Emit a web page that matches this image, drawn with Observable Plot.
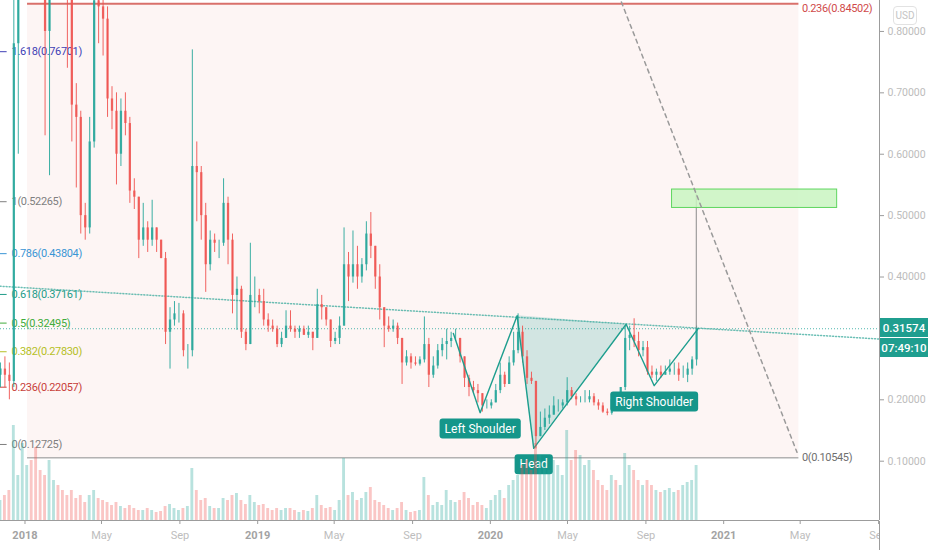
<!DOCTYPE html>
<html><head><meta charset="utf-8">
<script src="https://cdn.jsdelivr.net/npm/d3@7"></script>
<script src="https://cdn.jsdelivr.net/npm/@observablehq/plot@0.6"></script>
<style>
body{margin:0;background:#fff;font-family:Roboto,sans-serif;}
#wrap{position:relative;width:932px;height:550px;overflow:hidden;background:#fff;}
#wrap svg{position:absolute;left:0;top:0;}
.pbox{position:absolute;left:880px;width:48px;height:19px;background:#1f9e8f;color:#fff;font:500 11.5px Roboto,sans-serif;display:flex;align-items:center;justify-content:center;}
#usd{position:absolute;left:893px;top:6px;width:24px;height:19px;border:1px solid #e2e2e2;border-radius:4px;color:#c4c4c4;font:10px Roboto,sans-serif;display:flex;align-items:center;justify-content:center;box-sizing:border-box;}
#cover{position:absolute;left:879px;top:521px;width:53px;height:29px;background:#fff;border-left:1px solid #9c9c9c;box-sizing:border-box;}
.fibtxt text{letter-spacing:-0.35px;}
</style></head><body><div id="wrap"></div><script>
// ---------- DATA (weekly candles) ----------
const firstWeek = "2017-11-20";
const opens = [
0.24,0.25,0.24,0.23,0.78,0.98,2.00,2.50,1.80,1.40,
1.25,0.80,0.95,1.10,0.95,0.90,0.86,0.68,0.66,0.50,
0.48,0.62,0.85,0.84,0.82,0.69,0.67,0.60,0.67,0.65,
0.54,0.53,0.46,0.48,0.46,0.48,0.46,0.43,0.31,0.33,
0.34,0.34,0.28,0.28,0.58,0.57,0.50,0.42,0.46,0.455,
0.455,0.52,0.46,0.37,0.38,0.31,0.29,0.37,0.37,0.36,
0.33,0.32,0.315,0.29,0.30,0.32,0.315,0.31,0.315,0.305,
0.31,0.30,0.355,0.35,0.33,0.295,0.30,0.32,0.42,0.40,
0.42,0.40,0.42,0.47,0.45,0.40,0.35,0.32,0.315,0.32,
0.30,0.26,0.27,0.26,0.258,0.265,0.29,0.24,0.255,0.28,
0.29,0.295,0.30,0.30,0.27,0.235,0.22,0.215,0.21,0.19,
0.19,0.195,0.215,0.24,0.225,0.26,0.28,0.31,0.27,0.235,
0.23,0.14,0.155,0.17,0.175,0.19,0.19,0.195,0.215,0.205,
0.20,0.20,0.20,0.205,0.195,0.19,0.18,0.178,0.20,0.195,
0.22,0.30,0.305,0.295,0.28,0.285,0.245,0.24,0.245,0.24,
0.245,0.25,0.25,0.24,0.24,0.25,0.265];
const highs = [
0.26,0.27,0.26,0.92,1.20,2.10,3.30,2.60,1.85,1.50,
1.30,1.00,1.20,1.15,1.00,0.95,0.87,0.715,0.67,0.52,
0.66,0.89,0.95,0.93,0.84,0.71,0.70,0.69,0.70,0.66,
0.56,0.53,0.52,0.49,0.525,0.48,0.46,0.44,0.35,0.36,
0.357,0.345,0.29,0.77,0.62,0.58,0.52,0.475,0.47,0.46,
0.56,0.53,0.47,0.40,0.385,0.315,0.455,0.40,0.38,0.38,
0.34,0.33,0.32,0.31,0.345,0.345,0.32,0.32,0.32,0.32,
0.31,0.38,0.37,0.35,0.33,0.31,0.335,0.48,0.44,0.475,
0.45,0.43,0.49,0.505,0.45,0.42,0.35,0.335,0.33,0.325,
0.30,0.28,0.275,0.27,0.27,0.335,0.30,0.27,0.29,0.30,
0.315,0.31,0.315,0.30,0.27,0.24,0.23,0.225,0.21,0.20,
0.20,0.225,0.26,0.245,0.27,0.31,0.34,0.32,0.28,0.245,
0.23,0.18,0.185,0.19,0.205,0.20,0.20,0.236,0.22,0.21,
0.205,0.215,0.215,0.21,0.20,0.195,0.185,0.21,0.205,0.22,
0.32,0.32,0.332,0.31,0.295,0.295,0.255,0.25,0.255,0.255,
0.265,0.26,0.26,0.255,0.26,0.27,0.32];
const lows = [
0.22,0.22,0.20,0.22,0.60,0.95,1.90,1.60,1.05,1.20,
0.63,0.565,0.90,0.88,0.86,0.74,0.62,0.545,0.47,0.46,
0.47,0.61,0.78,0.76,0.66,0.64,0.55,0.58,0.63,0.52,
0.51,0.43,0.45,0.44,0.45,0.44,0.43,0.29,0.25,0.32,
0.325,0.27,0.25,0.27,0.49,0.46,0.375,0.41,0.44,0.43,
0.45,0.42,0.34,0.313,0.30,0.28,0.29,0.35,0.34,0.32,
0.31,0.31,0.285,0.285,0.30,0.31,0.30,0.30,0.305,0.30,
0.28,0.30,0.33,0.32,0.285,0.29,0.29,0.32,0.36,0.39,
0.38,0.39,0.41,0.43,0.38,0.33,0.285,0.31,0.31,0.29,
0.225,0.255,0.25,0.255,0.255,0.26,0.22,0.235,0.25,0.27,
0.265,0.285,0.295,0.26,0.22,0.205,0.21,0.195,0.18,0.185,
0.185,0.195,0.21,0.22,0.225,0.255,0.275,0.26,0.225,0.225,
0.12,0.14,0.15,0.16,0.175,0.18,0.185,0.19,0.20,0.19,
0.195,0.195,0.195,0.19,0.183,0.178,0.174,0.175,0.19,0.19,
0.215,0.28,0.285,0.27,0.27,0.24,0.235,0.23,0.235,0.24,
0.24,0.24,0.23,0.235,0.228,0.24,0.255];
const closes = [
0.25,0.24,0.23,0.78,0.98,2.00,2.50,1.80,1.40,1.25,
0.80,0.95,1.10,0.95,0.90,0.86,0.68,0.66,0.50,0.48,
0.62,0.85,0.84,0.82,0.69,0.67,0.60,0.67,0.65,0.54,
0.53,0.46,0.48,0.46,0.48,0.46,0.43,0.31,0.33,0.34,
0.34,0.28,0.28,0.58,0.57,0.50,0.42,0.46,0.455,0.455,
0.52,0.46,0.37,0.38,0.31,0.29,0.37,0.37,0.36,0.33,
0.32,0.315,0.29,0.30,0.32,0.315,0.31,0.315,0.305,0.31,
0.30,0.355,0.35,0.33,0.295,0.30,0.32,0.42,0.40,0.42,
0.40,0.42,0.47,0.45,0.40,0.35,0.32,0.315,0.32,0.30,
0.26,0.27,0.26,0.258,0.265,0.29,0.24,0.255,0.28,0.29,
0.295,0.30,0.30,0.27,0.235,0.22,0.215,0.21,0.19,0.19,
0.195,0.215,0.24,0.225,0.26,0.28,0.31,0.27,0.235,0.23,
0.14,0.155,0.17,0.175,0.19,0.19,0.195,0.215,0.205,0.20,
0.20,0.20,0.205,0.195,0.19,0.18,0.178,0.20,0.195,0.22,
0.30,0.305,0.295,0.28,0.285,0.245,0.24,0.245,0.24,0.245,
0.25,0.25,0.24,0.24,0.25,0.265,0.31574];
const volumes = [
20,25,30,95,45,77,55,60,73,50,
45,60,40,35,30,25,30,22,25,18,
25,30,22,20,18,15,18,14,12,15,
12,10,10,12,10,8,9,14,16,12,
10,12,14,52,30,20,22,14,12,12,
22,20,25,27,20,16,25,18,15,16,
12,10,12,10,12,12,10,8,10,9,
12,25,15,12,13,10,20,62,25,28,
20,22,28,33,20,18,15,12,10,12,
18,10,8,9,10,43,25,15,18,15,
30,20,18,20,28,22,15,18,15,12,
20,25,30,22,35,40,45,55,60,50,
77,65,55,50,60,55,45,90,60,70,
65,55,60,50,40,35,30,45,40,35,
67,55,50,40,35,40,35,30,28,30,
32,28,30,35,38,40,55];

const currentPrice = 0.31574;
const countdown = "07:49:10";
// price-scale labels visible in the picture (0.30000 is hidden behind the price tag)
const priceTicks = [0.1,0.2,0.4,0.5,0.6,0.7,0.8];
const timeTicks = ["2018-01-01","2018-05-01","2018-09-01","2019-01-01","2019-05-01","2019-09-01","2020-01-01","2020-05-01","2020-09-01","2021-01-01","2021-05-01","2021-09-01"];

// left Fibonacci retracement (labels at the left edge)
const leftFibLevels = ["1.618","1","0.786","0.618","0.5","0.382","0.236","0"];
const leftFibPrices = [0.76701,0.52265,0.43804,0.37161,0.32495,0.27830,0.22057,0.12725];
const leftFibLineEnd = "2017-12-04";
const leftFibLabelAt = "2017-12-11";

// right Fibonacci retracement (visible levels)
const rightFibLevels = ["0.236","0"];
const rightFibPrices = [0.84502,0.10545];
const rightFibSpan = ["2018-01-05","2021-04-29"];
const fibDiagonalDates = ["2020-07-20","2021-04-26"];
const fibDiagonalPrices = [0.86,0.1145];

// trend line (dotted)
const trendDates = ["2017-11-23","2021-09-02"];
const trendPrices = [0.385,0.299];

// head & shoulders pattern
const hsNames = ["","Left Shoulder","","Head","","Right Shoulder",""];
const hsDates = ["2019-11-04","2019-12-16","2020-02-12","2020-03-09","2020-08-01","2020-09-14","2020-11-22"];
const hsPrices = [0.308,0.179,0.337,0.121,0.323,0.223,0.316];

// target box and projection
const targetDates = ["2020-10-12","2021-06-28"];
const targetPrices = [0.5125,0.5425];
const projectionDate = "2020-11-19";
const projectionTop = 0.535;

// ---------- BUILD ----------
const DAY = 864e5;
const w0 = +new Date(firstWeek);
const weeks = opens.map((o,i)=>({
  start:new Date(w0+i*7*DAY), mid:new Date(w0+(i*7+3.5)*DAY), end:new Date(w0+(i+1)*7*DAY),
  open:o, high:highs[i], low:lows[i], close:closes[i], volume:volumes[i], up:closes[i]>=o
}));
const UP="#26a69a", DOWN="#ef5350";
const xDomain=[new Date(Date.UTC(2017,10,23,14)), new Date(Date.UTC(2021,8,2,10))];
const yDomain=[0.00341,0.8504];
const tDates=timeTicks.map(d=>new Date(d));
const yearTicks=tDates.filter(d=>d.getUTCMonth()===0);
const monthTicks=tDates.filter(d=>d.getUTCMonth()!==0);

const leftFib=leftFibLevels.map((l,i)=>({level:l,price:leftFibPrices[i],label:`${l}(${leftFibPrices[i].toFixed(5)})`}));
const rightFib=rightFibLevels.map((l,i)=>({level:l,price:rightFibPrices[i],label:`${l}(${rightFibPrices[i].toFixed(5)})`}));
const rfStart=new Date(rightFibSpan[0]), rfEnd=new Date(rightFibSpan[1]);
const hs=hsNames.map((n,i)=>({name:n,date:new Date(hsDates[i]),price:hsPrices[i]}));
const n1=hs[2], hd=hs[3], n2=hs[4];
const neckAt=d=>n1.price+(n2.price-n1.price)*((+d-+n1.date)/(+n2.date-+n1.date));
const tri=[{date:n1.date,lo:n1.price,hi:n1.price},{date:hd.date,lo:hd.price,hi:neckAt(hd.date)},{date:n2.date,lo:n2.price,hi:n2.price}];

const fibColor=Plot.scale({color:{domain:leftFibLevels,range:["#3f3fb5","#7f7f7f","#3a95d5","#1f9c88","#41ac3c","#b5bf26","#c8403a","#7f7f7f"]}});

const main=Plot.plot({
  width:932,height:550,marginLeft:0,marginRight:53,marginTop:0,marginBottom:30,
  style:{fontFamily:"Roboto, sans-serif",background:"transparent"},
  x:{type:"utc",domain:xDomain},
  y:{domain:yDomain},
  marks:[
    Plot.rect([{a:rfStart,b:rfEnd,c:rightFibPrices[1],d:rightFibPrices[0]}],{x1:"a",x2:"b",y1:"c",y2:"d",fill:"#fdf5f4",clip:true}),
    Plot.ruleY(rightFib,{y:"price",x1:rfStart,x2:rfEnd,stroke:d=>d.level==="0"?"#8c8c8c":"#d9706b",strokeWidth:d=>d.level==="0"?1:2,clip:true}),
    Plot.text(rightFib.slice(0,1),{x:rfEnd,y:"price",text:"label",textAnchor:"start",dx:3,dy:5,fill:"#d04a4a",fontSize:11,className:"fibtxt"}),
    Plot.text(rightFib.slice(1),{x:rfEnd,y:"price",text:"label",textAnchor:"start",dx:3,fill:"#6f6f6f",fontSize:11,className:"fibtxt"}),
    Plot.ruleY(leftFib,{y:"price",x1:xDomain[0],x2:new Date(leftFibLineEnd),stroke:d=>fibColor.apply(d.level)}),
    Plot.text(leftFib,{x:new Date(leftFibLabelAt),y:"price",text:"label",textAnchor:"start",fill:d=>fibColor.apply(d.level),fontSize:11,className:"fibtxt"}),
    Plot.ruleY([currentPrice],{stroke:UP,strokeDasharray:"1,2",strokeOpacity:0.8}),
    Plot.line(trendDates.map((d,i)=>({date:new Date(d),price:trendPrices[i]})),{x:"date",y:"price",stroke:"#3aa99c",strokeDasharray:"1,2",strokeOpacity:0.75,clip:true}),
    Plot.areaY(tri,{x:"date",y1:"lo",y2:"hi",fill:UP,fillOpacity:0.2}),
    Plot.ruleX(weeks,{x:"mid",y1:"low",y2:"high",stroke:d=>d.up?UP:DOWN,strokeWidth:1,strokeOpacity:0.9,clip:true}),
    Plot.ruleX(weeks,{x:"mid",y1:"open",y2:"close",stroke:d=>d.up?UP:DOWN,strokeWidth:2.3,strokeOpacity:0.85,clip:true}),
    Plot.line(hs,{x:"date",y:"price",stroke:"#1e9e8e",strokeWidth:1.4}),
    Plot.ruleX([{date:new Date(projectionDate),a:currentPrice,b:projectionTop}],{x:"date",y1:"a",y2:"b",stroke:"#8a8a8a"}),
    Plot.rect([{a:new Date(targetDates[0]),b:new Date(targetDates[1]),c:targetPrices[0],d:targetPrices[1]}],{x1:"a",x2:"b",y1:"c",y2:"d",fill:"#c9f5c1",fillOpacity:0.85,stroke:"#5fd65f",strokeWidth:1}),
    Plot.line(fibDiagonalDates.map((d,i)=>({date:new Date(d),price:fibDiagonalPrices[i]})),{x:"date",y:"price",stroke:"#9a9a9a",strokeDasharray:"4,4",clip:true}),
    Plot.text(hs.filter(d=>d.name),{x:"date",y:"price",text:"name",dy:16,fill:"#fff",fontSize:12}),
    Plot.ruleY([yDomain[0]],{stroke:"#9c9c9c"}),
    Plot.ruleX([xDomain[1]],{stroke:"#9c9c9c"}),
    Plot.axisX(yearTicks,{tickFormat:d3.utcFormat("%Y"),tickSize:4,tickPadding:7,fill:"#a3a3a3",stroke:"#9c9c9c",fontSize:11,fontWeight:"bold"}),
    Plot.axisX(monthTicks,{tickFormat:d3.utcFormat("%b"),tickSize:4,tickPadding:7,fill:"#bdbdbd",stroke:"#9c9c9c",fontSize:11}),
    Plot.axisY(priceTicks,{anchor:"right",tickFormat:d3.format(".5f"),tickSize:4,tickPadding:4,fill:"#bcbcbc",stroke:"#9c9c9c",fontSize:10.5})
  ]
});

const vol=Plot.plot({
  width:932,height:550,marginLeft:0,marginRight:53,marginTop:420,marginBottom:30,
  style:{background:"transparent"},
  x:{type:"utc",domain:xDomain,axis:null},
  y:{domain:[0,100],axis:null},
  marks:[Plot.rectY(weeks,{x1:"start",x2:"end",y:"volume",fill:d=>d.up?UP:DOWN,fillOpacity:0.33,insetLeft:0.8,insetRight:0.8,clip:true})]
});

const wrap=document.getElementById("wrap");
wrap.appendChild(main);
wrap.appendChild(vol);

// rounded boxes behind the pattern labels
const labelSet=new Set(hsNames.filter(n=>n));
main.querySelectorAll("text").forEach(t=>{
  if(!labelSet.has(t.textContent)) return;
  const b=t.getBBox();
  const r=document.createElementNS("http://www.w3.org/2000/svg","rect");
  r.setAttribute("x",b.x-5);r.setAttribute("y",b.y-3);
  r.setAttribute("width",b.width+10);r.setAttribute("height",b.height+6);
  r.setAttribute("rx",3);r.setAttribute("fill","#15968a");r.setAttribute("stroke","none");
  if(t.getAttribute("transform"))r.setAttribute("transform",t.getAttribute("transform"));
  t.parentNode.insertBefore(r,t);
});

// price-scale overlays
const yS=main.scale("y");
const cy=yS.apply(currentPrice);
const cover=document.createElement("div");cover.id="cover";wrap.appendChild(cover);
const b1=document.createElement("div");b1.className="pbox";b1.style.top=(cy-10)+"px";b1.textContent=currentPrice.toFixed(5);wrap.appendChild(b1);
const b2=document.createElement("div");b2.className="pbox";b2.style.top=(cy+10)+"px";b2.textContent=countdown;wrap.appendChild(b2);
const usd=document.createElement("div");usd.id="usd";usd.textContent="USD";wrap.appendChild(usd);
</script></body></html>
